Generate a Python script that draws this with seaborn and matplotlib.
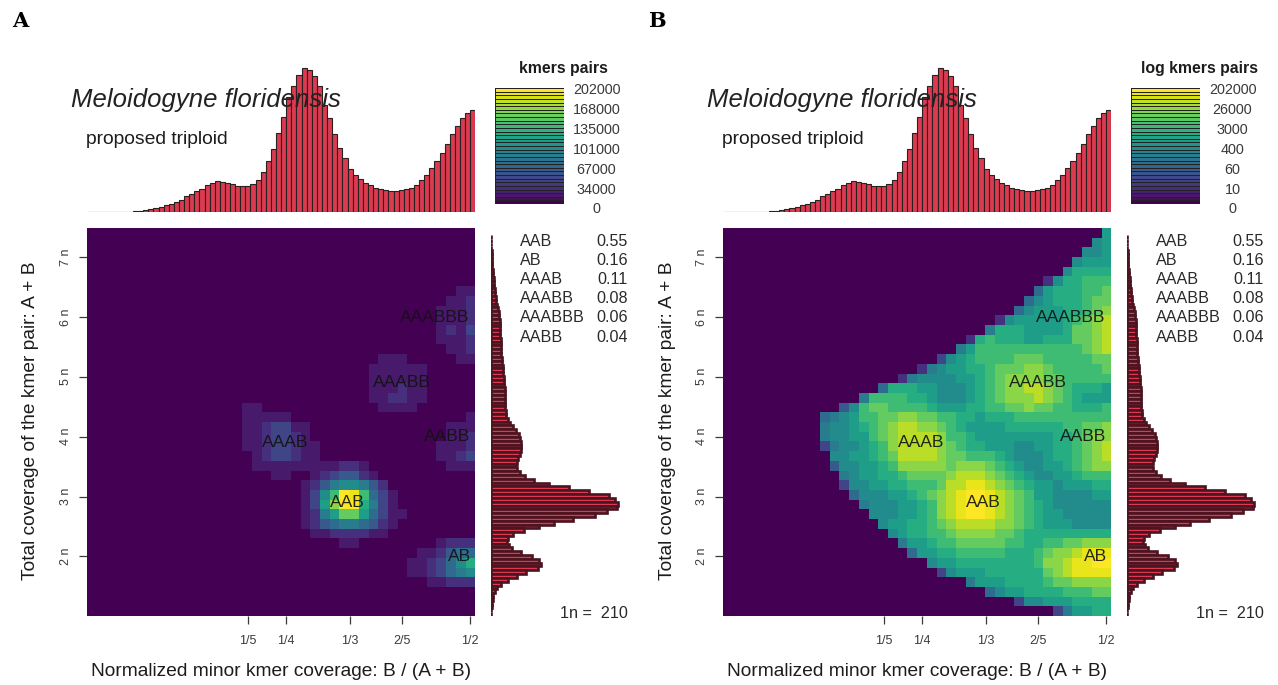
import numpy as np
import seaborn as sns
import matplotlib.pyplot as plt

# colour level of every cell, hex digit 0-f, rows top to bottom,
# each row written from its first coloured cell up to the right edge
rows_linear = [
    "", "", "", "", "", "",
    "11", "112", "1112", "1112", "1213", "1112", "112",
    "1110000011",
    "11111100000",
    "11111100000",
    "11121100000",
    "11221100000",
    "110000000000001111000000",
    "111110000000000000000001",
    "112331100000000000000111",
    "112332100000000000000112",
    "112332110000000000001112",
    "12332110000000000001123",
    "11111111122100000000111",
    "110012344210000000000",
    "124677642000000000",
    "137afea53100000000",
    "138cff963100000000",
    "1268bb853110000000",
    "124566542100000000",
    "11222211000000000",
    "11000000001222",
    "112455", "1123579", "1123567", "11222",
    "", "", "",
]

rows_log = [
    "8", "78", "778", "7888", "79999",
    "2799aaa",
    "58999aab",
    "578999abb",
    "5788899abc",
    "27888889abcd",
    "699988889bbcd",
    "29a99988999bbcd",
    "68aaaaaaaaaaabcd",
    "3789aaaabbbaaaaabb",
    "2678899abbbccbaaaaab",
    "267777889abccccbbaaaaa",
    "59998877789abccddcba9998",
    "6aaaa99877789abcccdcba9888",
    "47abbaaaa988899aabbcbbaa999a",
    "5678aabbccbbaa998999aaaaaaaaaa",
    "67789abcddccba98888999999aabbc",
    "67788abcddddcaa98888888899abcc",
    "367789acddddcba99888778899abcd",
    "77889abddddcbbaaa98777899abcd",
    "477889acccccbcccba9877889abcc",
    "678899abbbbcdddcba9877889aaa",
    "3778899aaabddeedcba988788899",
    "5777889abcdeffedcba88777788",
    "6777889acdeffedcba98777777",
    "777889acdeffedcba98877777",
    "78899abcddddccba98887777",
    "7899aabccccbba999999999",
    "6889aabbbbbaa99aabbccc",
    "58899aaaaa999abccdeee",
    "78899999999accdeeff",
    "37888999999bcdeeee",
    "68889999abbcccc",
    "57889999aaabb",
    "3778889999",
    "368899",
]

top_hist = [0, 0, 0, 0, 0, 0, 1, 1, 1, 2, 3, 7, 9, 12, 15, 20, 24, 30, 37, 47, 54, 62, 70, 82, 87, 93,
            89, 88, 83, 78, 77, 78, 83, 97, 120, 153, 189, 237, 285, 345, 377, 410, 433, 427, 408,
            377, 320, 283, 233, 193, 163, 130, 112, 98, 86, 82, 72, 68, 65, 63, 63, 65, 68, 73, 82,
            97, 110, 132, 153, 177, 205, 235, 258, 282, 297, 307]

side_hist = [0.1, 0.2, 0.3, 0.4, 0.5, 0.6, 0.8, 1, 1.3, 1.7, 2, 2.5, 3, 3.3, 3.7, 4.2, 4.6, 5.2, 6, 6.6,
             7.6, 8.3, 8.6, 8.8, 9, 9.2, 9.4, 9.6, 9.7, 10, 10.2, 10.4, 10.6, 11, 11.5, 12, 12.4, 12.8,
             13, 13.3, 13.5, 13.7, 14, 14, 14.2, 14.3, 14.6, 15.4, 16.5, 19, 22, 25, 27.5, 29, 30, 30.3,
             30, 28.5, 27, 25.5, 25, 26, 29, 34, 43, 58, 78, 98, 118, 124, 127, 126, 116, 104, 82, 63,
             48, 33, 22, 17, 16, 18, 21, 30, 41, 48, 50, 47, 35, 26, 17, 10, 6, 3.5, 2, 1.5, 1, 0.7, 0.4, 0.2]

fit_names = ["AAB", "AB", "AAAB", "AAABB", "AAABBB", "AABB"]
fit_props = ["0.55", "0.16", "0.11", "0.08", "0.06", "0.04"]
x_tick_labels = ["1/5", "1/4", "1/3", "2/5", "1/2"]
y_tick_labels = ["2 n", "3 n", "4 n", "5 n", "6 n", "7 n"]
key_linear = ["202000", "168000", "135000", "101000", "67000", "34000", "0"]
key_log = ["202000", "26000", "3000", "400", "60", "10", "0"]

W, H = 1278, 685
BAR_RED = "#dc3a50"
EDGE = "#2a2020"
INK = "#1c1c1c"
GREY = "#3a3a3a"

sns.set_theme(style="white")
plt.rcParams["font.family"] = ["Liberation Sans", "DejaVu Sans"]

fig = plt.figure(figsize=(W / 100, H / 100), dpi=100)


def box(x0, y0, x1, y1):
    # pixel box, y down, to figure fractions
    return fig.add_axes([x0 / W, 1 - y1 / H, (x1 - x0) / W, (y1 - y0) / H])


def label(x, y, s, **kw):
    kw.setdefault("color", INK)
    kw.setdefault("va", "center")
    fig.text(x / W, 1 - (y + 1.8) / H, s, **kw)


def to_matrix(rows):
    return np.array([[int(c, 16) for c in r.rjust(40, "0")] for r in rows])


def draw_panel(dx, rows, key_title, key_labels, letter):
    # smudge heatmap
    ax = box(87 + dx, 228, 475.3 + dx, 616)
    sns.heatmap(to_matrix(rows), cmap="viridis", vmin=0, vmax=14.5, cbar=False, ax=ax)
    ax.set_xticks([(p - 87) / 9.7 for p in [247.5, 286, 350, 402, 470]], x_tick_labels)
    ax.set_yticks([(p - 228) / 9.7 for p in [556, 496.7, 436.7, 376.7, 317.3, 257.3]], y_tick_labels)
    ax.tick_params(axis="x", bottom=True, length=5.8, width=0.9, color=GREY, labelsize=9,
                   labelcolor=GREY, pad=8, labelrotation=0)
    ax.tick_params(axis="y", left=True, length=5.8, width=0.9, color=GREY, labelsize=9,
                   labelcolor=GREY, pad=5, labelrotation=90)
    for t in ax.get_yticklabels():
        t.set_va("center")

    # peak names
    for name, (px, py) in {"AAB": (347, 502.5), "AB": (459, 556.5), "AAAB": (285, 442.5),
                           "AAABB": (402, 382.5), "AABB": (447, 436.5), "AAABBB": (434, 317.5)}.items():
        ax.text((px - 87) / 9.7, (py - 228) / 9.7, name, fontsize=12.6, color="#111111",
                ha="center", va="center", alpha=0.9)

    # top histogram
    ax_top = box(87 + dx, 60, 475.3 + dx, 212)
    sns.histplot(x=np.arange(len(top_hist)) + 0.5, weights=top_hist, bins=list(range(len(top_hist) + 1)),
                 color=BAR_RED, edgecolor=EDGE, linewidth=0.8, alpha=1, ax=ax_top)
    ax_top.set_xlim(0, len(top_hist))
    ax_top.set_ylim(0, 456)
    ax_top.axis("off")

    # side histogram
    ax_side = box(491 + dx, 235, 625 + dx, 616)
    sns.histplot(y=np.arange(len(side_hist)) + 0.5, weights=side_hist, bins=list(range(len(side_hist) + 1)),
                 color=BAR_RED, edgecolor="#4a1420", linewidth=1.9, alpha=1, ax=ax_side)
    ax_side.set_ylim(len(side_hist), 0)
    ax_side.set_xlim(0, 134)
    ax_side.axis("off")

    # colour key
    ax_key = box(495 + dx, 88, 564 + dx, 204)
    sns.heatmap(np.arange(32)[::-1].reshape(-1, 1), cmap="viridis", cbar=False, linewidths=0.45,
                linecolor="#222222", xticklabels=False, yticklabels=False, ax=ax_key)
    label(563.5 + dx, 67, key_title, ha="center", fontsize=11.4, fontweight="bold")
    for t, py in zip(key_labels, [88, 108, 128, 148, 168, 188, 207]):
        label(596.5 + dx, py, t, ha="center", fontsize=10.4, color=GREY)

    # texts
    label(71 + dx, 98, "Meloidogyne floridensis", fontsize=18.5, fontstyle="italic", color="#222222")
    label(86 + dx, 138, "proposed triploid", fontsize=13.9)
    label(281 + dx, 670, "Normalized minor kmer coverage: B / (A + B)", fontsize=13.75, ha="center")
    label(31 + dx, 419, "Total coverage of the kmer pair: A + B", fontsize=13.75, rotation=90,
          ha="center", color=INK)
    for name, prop, py in zip(fit_names, fit_props, [240, 259, 278, 297, 316, 336]):
        label(520 + dx, py, name, fontsize=11.6, color="#2a2a2a")
        label(628 + dx, py, prop, fontsize=11.6, ha="right", color="#2a2a2a")
    label(628 + dx, 612, "1n =  210", fontsize=11.6, ha="right", color="#2a2a2a")
    label(12 + dx, 19, letter, fontsize=15, fontweight="bold", family="DejaVu Serif", color="black")


draw_panel(0, rows_linear, "kmers pairs", key_linear, "A")
draw_panel(636, rows_log, "log kmers pairs", key_log, "B")

fig.savefig("out.png", dpi=100)
